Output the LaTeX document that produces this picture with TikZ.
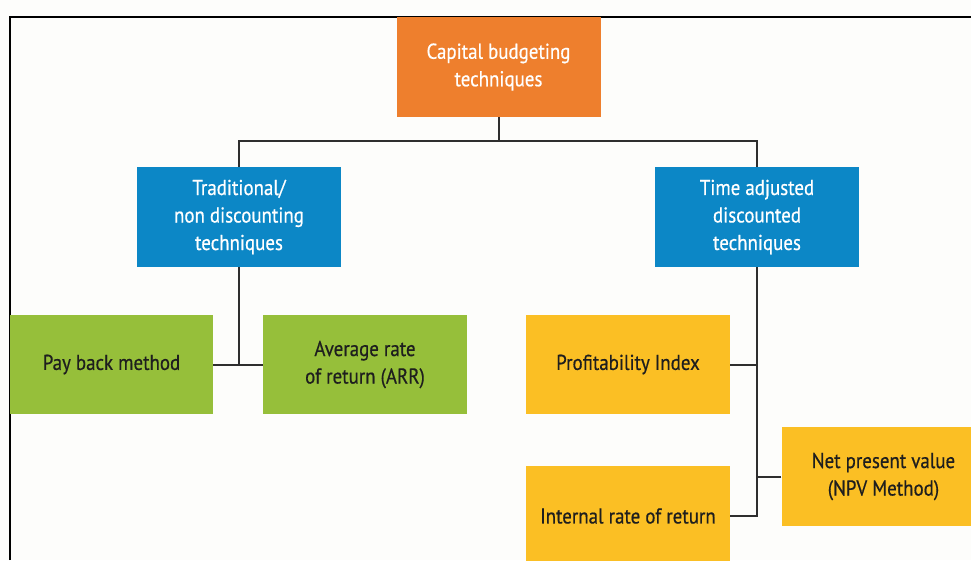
\documentclass[tikz,border=0pt]{standalone}
\usepackage{fontspec}
\setmainfont{PT Sans}[FakeStretch=0.88, FakeBold=0.5]
\definecolor{bgc}{HTML}{FDFDFB}
\definecolor{orangec}{HTML}{EE7F2D}
\definecolor{bluec}{HTML}{0C87C6}
\definecolor{greenc}{HTML}{96BF3A}
\definecolor{yellowc}{HTML}{FBBF24}
\definecolor{darktext}{HTML}{1E1E1E}
\definecolor{linec}{HTML}{2E2E2E}
\tikzset{
  boxnode/.style={rectangle, inner sep=0pt, minimum width=204pt, minimum height=100pt, align=center, font=\fontsize{21.5}{27.5}\selectfont},
  lightbox/.style={boxnode, text=white},
  darkbox/.style={boxnode, text=darktext},
  conn/.style={draw=linec, line width=2pt}
}
\begin{document}
\begin{tikzpicture}[x=1pt,y=-1pt]
\useasboundingbox (0,0) rectangle (971,560);
\clip (0,0) rectangle (971,560);
\fill[bgc] (0,0) rectangle (971,560);
\draw[line width=2pt, black] (10,560) -- (10,17) -- (971,17);
\node[lightbox, fill=orangec] (top) at (498.5,67) {Capital budgeting\\techniques};
\node[lightbox, fill=bluec] (bl) at (239,217) {Traditional/\\non discounting\\techniques};
\node[lightbox, fill=bluec] (br) at (757,217) {Time adjusted\\discounted\\techniques};
\node[darkbox, fill=greenc, minimum width=203pt, minimum height=99pt] (gl) at (111.5,364.5) {Pay back method};
\node[darkbox, fill=greenc, minimum height=99pt] (gr) at (365,364.5) {Average rate\\of return (ARR)};
\node[darkbox, fill=yellowc, minimum height=99pt] (pi) at (628,364.5) {Profitability Index};
\node[darkbox, fill=yellowc] (irr) at (628,516) {Internal rate of return};
\node[darkbox, fill=yellowc, minimum height=99pt] (npv) at (883.5,476.5) {Net present value\\(NPV Method)};
\draw[conn] (top.south) -- ++(0,24) coordinate (mid);
\draw[conn] (bl.north) |- (mid) -| (br.north);
\draw[conn] (bl.south) -- (bl.south |- gl.east);
\draw[conn] (gl.east) -- (gr.west);
\draw[conn] (br.south) |- (irr.east);
\draw[conn] (pi.east) -- (br.south |- pi.east);
\draw[conn] (npv.west) -- (br.south |- npv.west);
\end{tikzpicture}
\end{document}
